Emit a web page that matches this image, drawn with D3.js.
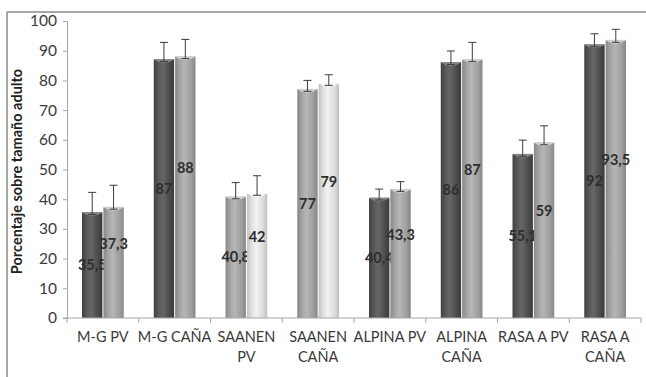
<!DOCTYPE html>
<html>
<head>
<meta charset="utf-8">
<script src="https://cdn.jsdelivr.net/npm/d3@7"></script>
<style>
  body { margin: 0; background: #fff; }
  text { font-family: Lato, "Noto Sans", sans-serif; }
</style>
</head>
<body>
<div id="chart"></div>
<script>
// categories and values
let categories = [["M-G PV"], ["M-G CAÑA"], ["SAANEN", "PV"], ["SAANEN", "CAÑA"],
    ["ALPINA PV"], ["ALPINA", "CAÑA"], ["RASA A PV"], ["RASA A", "CAÑA"]];
let series1 = [35.5, 87, 40.8, 77, 40.4, 86, 55.1, 92];
let series2 = [37.3, 88, 42, 79, 43.3, 87, 59, 93.5];
let errors1 = [6.8, 5.8, 4.8, 3, 3, 3.9, 4.8, 3.7];
let errors2 = [7.4, 5.8, 5.9, 2.9, 2.6, 5.8, 5.7, 3.7];
// which shade each bar gets (SAANEN groups are drawn lighter)
let shades1 = ["dark", "dark", "mid", "mid", "dark", "dark", "dark", "dark"];
let shades2 = ["mid", "mid", "light", "light", "mid", "mid", "mid", "mid"];
let yTicks = [0, 10, 20, 30, 40, 50, 60, 70, 80, 90, 100];

let settings = {
    width: 646,
    height: 377,
    left: 67,
    right: 641,
    top: 21,
    bottom: 318,
    label_shift: 19,
};

let shades = {
    dark: ["#404040", "#5a5a5a", "#666", "#4a4a4a", "#3a3a3a", "#858585"],
    mid: ["#888", "#a6a6a6", "#b6b6b6", "#9e9e9e", "#868686", "#d0d0d0"],
    light: ["#c2c2c2", "#e2e2e2", "#f2f2f2", "#dcdcdc", "#bebebe", "#fafafa"],
};

let svg = d3.select("#chart").append("svg")
    .attr("width", settings.width)
    .attr("height", settings.height);

let defs = svg.append("defs");
for (let key in shades) {
    let c = shades[key];
    let g = defs.append("linearGradient").attr("id", "grad-" + key)
        .attr("x1", "0").attr("x2", "1").attr("y1", "0").attr("y2", "0");
    [[0, c[0]], [0.25, c[1]], [0.45, c[2]], [0.8, c[3]], [1, c[4]]].forEach(([o, col]) => {
        g.append("stop").attr("offset", o).attr("stop-color", col);
    });
}

// frame lines of the original figure
svg.append("line").attr("x1", 7).attr("x2", settings.width).attr("y1", 12).attr("y2", 12)
    .attr("stroke", "#8a8a8a").attr("stroke-width", 1.5);
svg.append("line").attr("x1", 7).attr("x2", 7).attr("y1", 12).attr("y2", settings.height)
    .attr("stroke", "#8a8a8a").attr("stroke-width", 1.5);

let y = d3.scaleLinear().domain([0, 100]).range([settings.bottom, settings.top]);
let x0 = d3.scaleBand().domain(d3.range(categories.length))
    .range([settings.left, settings.right]).padding(0);
let x1 = d3.scaleBand().domain([0, 1]).range([0, x0.bandwidth()])
    .paddingInner(0).paddingOuter(0.68);

// y axis
let yAxis = svg.append("g").attr("transform", "translate(" + settings.left + ",0)")
    .call(d3.axisLeft(y).tickValues(yTicks).tickSize(4).tickPadding(6));
yAxis.select(".domain").attr("stroke", "#a6a6a6");
yAxis.selectAll(".tick line").attr("stroke", "#a6a6a6");
yAxis.selectAll(".tick text").attr("font-size", 15.5).attr("fill", "#3a3a3a")
    .style("font-family", "Lato, sans-serif");

svg.append("text")
    .attr("transform", "translate(22," + ((settings.top + settings.bottom) / 2 + 2) + ") rotate(-90)")
    .attr("text-anchor", "middle")
    .attr("font-size", 14.5)
    .attr("font-weight", "bold")
    .attr("fill", "#222")
    .text("Porcentaje sobre tamaño adulto");

let bars = [];
for (let i = 0; i < categories.length; i++) {
    bars.push({ cat: i, s: 0, value: series1[i], err: errors1[i], shade: shades1[i] });
    bars.push({ cat: i, s: 1, value: series2[i], err: errors2[i], shade: shades2[i] });
}

let bw = x1.bandwidth();
let bar = svg.append("g").selectAll("g.bar").data(bars).enter().append("g")
    .attr("class", "bar")
    .attr("transform", d => "translate(" + (x0(d.cat) + x1(d.s)) + ",0)");

bar.append("rect")
    .attr("x", 0.5)
    .attr("width", bw - 1)
    .attr("y", d => y(d.value))
    .attr("height", d => y(0) - y(d.value))
    .attr("fill", d => "url(#grad-" + d.shade + ")");

// cylinder top
bar.append("path")
    .attr("d", d => {
        let t = y(d.value);
        return "M 0.5 " + t + " Q " + (bw / 2) + " " + (t + 7) + " " + (bw - 0.5) + " " + t + " Z";
    })
    .attr("fill", d => shades[d.shade][5]);
bar.append("line")
    .attr("x1", 0.5).attr("x2", bw - 0.5)
    .attr("y1", d => y(d.value)).attr("y2", d => y(d.value))
    .attr("stroke", d => shades[d.shade][5]).attr("stroke-width", 1);

// x axis
svg.append("line")
    .attr("x1", settings.left - 4).attr("x2", settings.right)
    .attr("y1", y(0)).attr("y2", y(0))
    .attr("stroke", "#a6a6a6");
let bounds = d3.range(categories.length).map(i => x0(i)).concat([settings.right]);
svg.append("g").selectAll("line").data(bounds).enter().append("line")
    .attr("x1", d => d).attr("x2", d => d)
    .attr("y1", y(0)).attr("y2", y(0) + 5)
    .attr("stroke", "#a6a6a6");

let xl = svg.append("g").selectAll("text").data(categories).enter().append("text")
    .attr("x", (d, i) => x0(i) + x0.bandwidth() / 2)
    .attr("y", 342)
    .attr("text-anchor", "middle")
    .attr("font-size", 14.5)
    .attr("fill", "#3a3a3a");
xl.each(function(d) {
    let t = d3.select(this);
    d.forEach((line, k) => {
        t.append("tspan").attr("x", t.attr("x")).attr("dy", k === 0 ? 0 : 20).text(line);
    });
});

// error bars
let eb = bar.append("g").attr("stroke", "#3c3c3c").attr("stroke-width", 1);
eb.append("line")
    .attr("x1", bw / 2).attr("x2", bw / 2)
    .attr("y1", d => y(d.value) + 2).attr("y2", d => y(d.value + d.err));
eb.append("line")
    .attr("x1", bw / 2 - 4).attr("x2", bw / 2 + 4)
    .attr("y1", d => y(d.value + d.err)).attr("y2", d => y(d.value + d.err));
eb.append("line")
    .attr("x1", bw / 2 - 4).attr("x2", bw / 2 + 4)
    .attr("y1", d => y(d.value) + 2).attr("y2", d => y(d.value) + 2);

// data labels
bar.append("text")
    .attr("x", bw / 2)
    .attr("y", d => y(d.value / 2) - (d.s === 1 ? settings.label_shift : 0))
    .attr("dy", "0.35em")
    .attr("text-anchor", "middle")
    .attr("font-size", 14.5)
    .attr("font-weight", "bold")
    .attr("fill", "#2e2e2e")
    .text(d => String(d.value).replace(".", ","));
</script>
</body>
</html>
